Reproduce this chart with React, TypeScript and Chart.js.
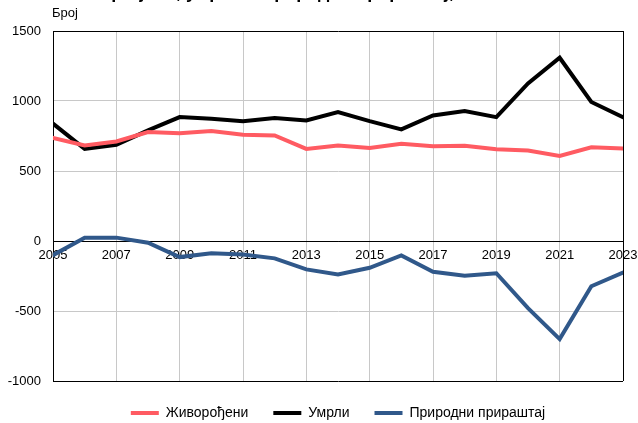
import React, { useEffect, useRef } from "react";
import { Chart, registerables } from "chart.js";

Chart.register(...registerables);

const years = [2005, 2006, 2007, 2008, 2009, 2010, 2011, 2012, 2013, 2014, 2015, 2016, 2017, 2018, 2019, 2020, 2021, 2022, 2023];
const births = [737, 682, 711, 778, 770, 785, 759, 754, 658, 682, 665, 694, 677, 680, 655, 646, 608, 670, 660];
const deaths = [838, 658, 687, 790, 885, 873, 856, 878, 861, 921, 856, 797, 897, 928, 885, 1125, 1309, 993, 885];
const naturalIncrease = [-101, 24, 24, -12, -115, -88, -97, -124, -203, -239, -191, -103, -220, -248, -230, -479, -701, -323, -225];

const seriesLabels = ["Живорођени", "Умрли", "Природни прираштај"];
const seriesColors = ["#ff5b62", "#000000", "#30588a"];
const titleText = "Живорођени, умрли и природни прираштај, 2005–2023";
const yAxisLabel = "Број";
const yMin = -1000;
const yMax = 1500;
const yStep = 500;
const xStep = 2;

const FONT = "'Liberation Sans', Arial, sans-serif";

const textPlugin = {
  id: "extraTexts",
  afterDraw(chart: any) {
    const { ctx, chartArea } = chart;
    ctx.save();
    ctx.fillStyle = "#000";
    ctx.textBaseline = "alphabetic";
    ctx.font = `bold 18px ${FONT}`;
    ctx.textAlign = "left";
    ctx.fillText(titleText, 62, -2);
    ctx.font = `13px ${FONT}`;
    ctx.fillText(yAxisLabel, chartArea.left - 1, chartArea.top - 14);
    ctx.restore();
  },
};

export default function App() {
  const canvasRef = useRef<HTMLCanvasElement | null>(null);

  useEffect(() => {
    if (!canvasRef.current) return;
    const mk = (vals: number[]) => years.map((y, i) => ({ x: y, y: vals[i] }));
    const all = [births, deaths, naturalIncrease];
    const chart = new Chart(canvasRef.current, {
      type: "line",
      data: {
        datasets: all.map((vals, i) => ({
          label: seriesLabels[i],
          data: mk(vals),
          borderColor: seriesColors[i],
          backgroundColor: seriesColors[i],
          borderWidth: 4,
          pointRadius: 0,
          tension: 0,
          borderCapStyle: "round" as const,
          borderJoinStyle: "miter" as const,
        })),
      },
      options: {
        animation: false,
        responsive: false,
        maintainAspectRatio: false,
        layout: { padding: { top: 31, right: 15, left: 0, bottom: -7 } },
        scales: {
          x: {
            type: "linear",
            position: { y: 0 } as any,
            min: years[0],
            max: years[years.length - 1],
            ticks: {
              stepSize: xStep,
              autoSkip: false,
              maxRotation: 0,
              color: "#000",
              padding: 7,
              font: { size: 13, family: FONT },
              callback: (v: any) => String(v),
            },
            grid: {
              drawTicks: false,
              color: (c: any) => (c.tick && c.tick.value === years[years.length - 1] ? "#000" : "#c8c8c8"),
              lineWidth: 1,
            },
            border: { color: "#000", width: 1 },
            afterFit: (scale: any) => {
              scale.paddingLeft = 0;
              scale.paddingRight = 0;
            },
          },
          y: {
            min: yMin,
            max: yMax,
            ticks: {
              stepSize: yStep,
              color: "#000",
              padding: 12,
              font: { size: 13, family: FONT },
              callback: (v: any) => String(v),
            },
            grid: {
              drawTicks: false,
              color: (c: any) => {
                const v = c.tick ? c.tick.value : null;
                return v === yMin || v === yMax || v === 0 ? "#000" : "#c8c8c8";
              },
              lineWidth: 1,
            },
            border: { color: "#000", width: 1 },
            afterFit: (scale: any) => {
              scale.width = 53;
              scale.paddingTop = 0;
              scale.paddingBottom = 0;
            },
          },
        },
        plugins: {
          legend: {
            position: "bottom",
            fullSize: false,
            labels: {
              usePointStyle: true,
              pointStyle: "line",
              pointStyleWidth: 28,
              color: "#000",
              padding: 25,
              font: { size: 14, family: FONT },
            },
          },
          title: { display: false },
          tooltip: { enabled: false },
        },
      },
      plugins: [textPlugin],
    });
    return () => chart.destroy();
  }, []);

  return (
    <div style={{ position: "fixed", left: 0, top: 0, width: 638, height: 423, background: "#fff" }}>
      <canvas ref={canvasRef} width={638} height={423} style={{ width: 638, height: 423 }} />
    </div>
  );
}
